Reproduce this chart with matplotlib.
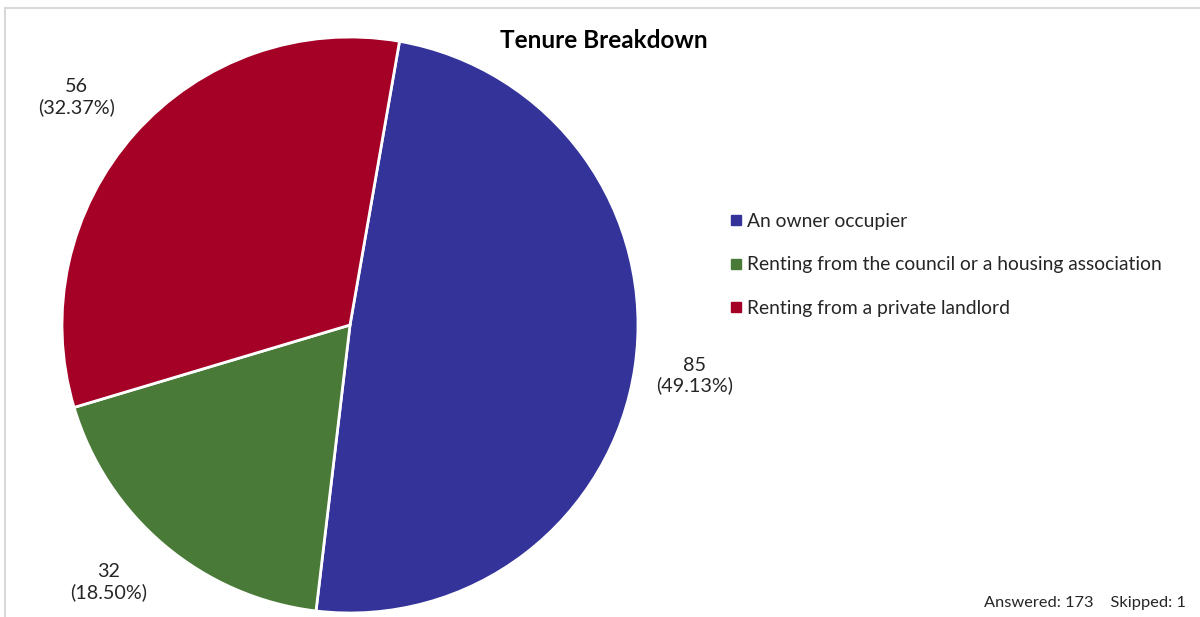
import numpy as np
import matplotlib
matplotlib.use("Agg")
import matplotlib.pyplot as plt
from matplotlib.lines import Line2D

plt.rcParams['font.family'] = ['Lato', 'DejaVu Sans']

# survey responses by tenure
categories = ["An owner occupier",
              "Renting from the council or a housing association",
              "Renting from a private landlord"]
counts = [85, 32, 56]
percent_labels = ["49.13%", "18.50%", "32.37%"]
colors = ["#333399", "#4a7a38", "#a50026"]
answered = 173
skipped = 1

W, H = 1200, 617
fig = plt.figure(figsize=(W / 100, H / 100), dpi=100)

# light frame round the chart area
fig.add_artist(Line2D([5 / W, 5 / W], [0, 1 - 8 / H], color="#d9d9d9", lw=1.5,
                      transform=fig.transFigure))
fig.add_artist(Line2D([5 / W, 1], [1 - 8 / H, 1 - 8 / H], color="#d9d9d9", lw=1.5,
                      transform=fig.transFigure))

# pie axes: centre (350, 325) px, radius 288 px
cx, cy, r = 350, 325, 288
ax = fig.add_axes([(cx - r) / W, (H - cy - r) / H, 2 * r / W, 2 * r / H])
wedges, _ = ax.pie(counts, colors=colors, startangle=80.1, counterclock=False,
                   radius=1, wedgeprops=dict(edgecolor="white", linewidth=2))
ax.set_xlim(-1, 1)
ax.set_ylim(-1, 1)
ax.set_aspect("equal")
ax.axis("off")

# value labels outside each slice
label_dist = [1.21, 1.225, 1.235]
label_shift = [0.0, -3.2, 1.8]  # degrees
for w, n, p, d, s in zip(wedges, counts, percent_labels, label_dist, label_shift):
    ang = np.deg2rad((w.theta1 + w.theta2) / 2 + s)
    ax.text(d * np.cos(ang), d * np.sin(ang), f"{n}\n({p})", ha="center",
            va="center", fontsize=14.2, color="#262626", linespacing=1.2,
            clip_on=False)

fig.text(604 / W, 1 - 40 / H, "Tenure Breakdown", ha="center", va="center",
         fontsize=17.5, fontweight="bold", color="black")

handles = [Line2D([], [], marker="s", linestyle="none", markersize=7,
                  markerfacecolor=c, markeredgecolor=c) for c in colors]
fig.legend(handles, categories, loc="center left",
           bbox_to_anchor=(714 / W, 1 - 265 / H), frameon=False,
           fontsize=13.9, handlelength=0.5, handletextpad=0.3,
           labelspacing=1.38, labelcolor="#262626")

fig.text(1186 / W, 1 - 603 / H, f"Answered: {answered}    Skipped: {skipped}",
         ha="right", va="center", fontsize=11.8, color="#262626")

fig.savefig("out.png", dpi=100, facecolor="white")
